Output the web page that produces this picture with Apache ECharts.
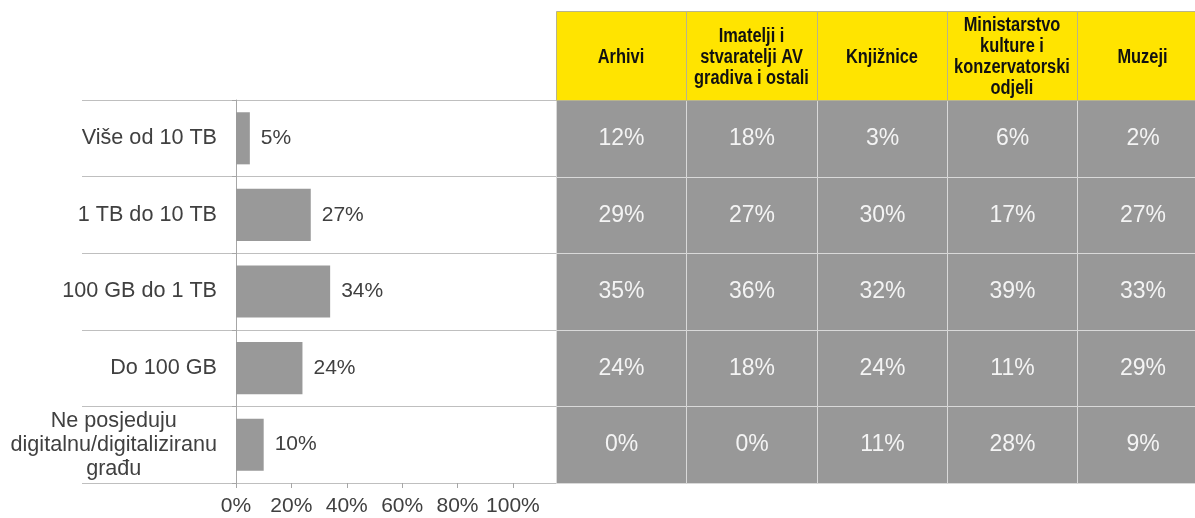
<!DOCTYPE html>
<html>
<head>
<meta charset="utf-8">
<script src="https://cdn.jsdelivr.net/npm/echarts@6/dist/echarts.min.js"></script>
<style>
  html, body { margin: 0; padding: 0; background: #fff; }
  #chart { width: 1195px; height: 518px; }
</style>
</head>
<body>
<div id="chart"></div>
<script>
// row categories (storage size)
const sizeLabels = ['Više od 10 TB', '1 TB do 10 TB', '100 GB do 1 TB', 'Do 100 GB', 'Ne posjeduju\ndigitalnu/digitaliziranu\ngrađu'];
// total share, drawn as bars
const totalShare = [5, 27, 34, 24, 10];
// table columns
const groups = ['Arhivi', 'Imatelji i\nstvaratelji AV\ngradiva i ostali', 'Knjižnice', 'Ministarstvo\nkulture i\nkonzervatorski\nodjeli', 'Muzeji'];
const arhivi = [12, 29, 35, 24, 0];
const imatelji = [18, 27, 36, 18, 0];
const knjiznice = [3, 30, 32, 24, 11];
const ministarstvo = [6, 17, 39, 11, 28];
const muzeji = [2, 27, 33, 29, 9];
const axisTicks = [0, 20, 40, 60, 80, 100];

const FONT = '"Liberation Sans", Arial, sans-serif';
const HEADER_H = 89;

let columns = [arhivi, imatelji, knjiznice, ministarstvo, muzeji];
let cells = [];
columns.forEach((col, j) => {
  col.forEach((v, i) => cells.push([j, i, v]));
});

// pixel edges of a table cell, rounded so neighbours share one line
function cellBox(api, j, i) {
  let a = api.coord([j - 0.5, i]);
  let b = api.coord([j + 0.5, i]);
  let c = api.coord([j, i]);
  let h = api.size([1, 1])[1];
  let x0 = Math.round(a[0]), x1 = Math.round(b[0]);
  let y0 = Math.round(c[1] - h / 2), y1 = Math.round(c[1] + h / 2);
  return { x0, x1, y0, y1 };
}

function renderCell(params, api) {
  let box = cellBox(api, api.value(0), api.value(1));
  return {
    type: 'rect',
    shape: { x: box.x0 + 0.5, y: box.y0 + 0.5, width: box.x1 - box.x0, height: box.y1 - box.y0 },
    style: { fill: '#989898', stroke: '#d9d9d9', lineWidth: 1 },
    textContent: {
      style: { text: api.value(2) + '%', fill: '#f4f4f4', fontSize: 23, fontFamily: FONT }
    },
    textConfig: { position: 'inside' }
  };
}

// yellow header cells sit right above the first table row
function renderHeader(params, api) {
  let j = api.value(0);
  let box = cellBox(api, j, 0);
  let top = box.y0 - HEADER_H + 0.5;
  return {
    type: 'group',
    children: [
      {
        type: 'rect',
        shape: { x: box.x0 + 0.5, y: top, width: box.x1 - box.x0, height: HEADER_H },
        style: { fill: '#ffe400', stroke: '#b8b48c', lineWidth: 1 }
      },
      {
        type: 'text',
        x: (box.x0 + box.x1) / 2, y: top + HEADER_H / 2 + 1, scaleX: 0.82,
        style: {
          text: groups[j], fill: '#111', fontSize: 20, fontWeight: 'bold',
          fontFamily: FONT, lineHeight: 21, align: 'center', verticalAlign: 'middle'
        }
      }
    ]
  };
}

let ec = echarts.init(document.getElementById('chart'));
ec.setOption({
  animation: false,
  grid: [
    { left: 82, width: 474, top: 100, height: 383 },
    { left: 236, width: 319, top: 100, height: 383 },
    { left: 556, right: 0, top: 100, height: 383 }
  ],
  xAxis: [
    { gridIndex: 0, type: 'value', show: false },
    {
      gridIndex: 1, type: 'value', min: 0, max: 115.2,
      axisLine: { show: false },
      splitLine: { show: false },
      axisTick: { show: true, length: 5, customValues: axisTicks, lineStyle: { color: '#a6a6a6' } },
      axisLabel: {
        customValues: axisTicks, formatter: '{value}%', margin: 13,
        fontSize: 21, color: '#404040', fontFamily: FONT
      }
    },
    // last column runs past the right edge of the picture
    { gridIndex: 2, type: 'value', min: -0.5, max: 4.404, show: false }
  ],
  yAxis: [
    {
      gridIndex: 0, type: 'category', data: sizeLabels, inverse: true,
      axisLine: { show: false }, axisTick: { show: false }, axisLabel: { show: false },
      splitLine: { show: true, lineStyle: { color: '#bfbfbf', width: 1 } }
    },
    {
      gridIndex: 1, type: 'category', data: sizeLabels, inverse: true,
      axisLine: { show: true, lineStyle: { color: '#a6a6a6' } },
      axisTick: { show: true, length: 4, lineStyle: { color: '#a6a6a6' } },
      axisLabel: {
        margin: 19, fontSize: 21.6, color: '#404040', fontFamily: FONT, lineHeight: 24,
        formatter: v => v.indexOf('\n') < 0 ? v : v.split('\n').map(s => '{c|' + s + '}').join('\n'),
        rich: { c: { align: 'center', fontSize: 21.6, color: '#404040', fontFamily: FONT, lineHeight: 24 } }
      }
    },
    { gridIndex: 2, type: 'category', data: sizeLabels, inverse: true, show: false }
  ],
  series: [
    {
      type: 'bar', xAxisIndex: 1, yAxisIndex: 1,
      data: totalShare,
      barCategoryGap: '32%',
      itemStyle: { color: '#999999' },
      label: {
        show: true, position: 'right', distance: 11, formatter: '{c}%',
        fontSize: 21, color: '#404040', fontFamily: FONT
      }
    },
    {
      type: 'custom', xAxisIndex: 2, yAxisIndex: 2,
      data: cells, renderItem: renderCell
    },
    {
      type: 'custom', xAxisIndex: 2, yAxisIndex: 2,
      data: groups.map((g, j) => [j]), renderItem: renderHeader
    }
  ]
});
</script>
</body>
</html>
